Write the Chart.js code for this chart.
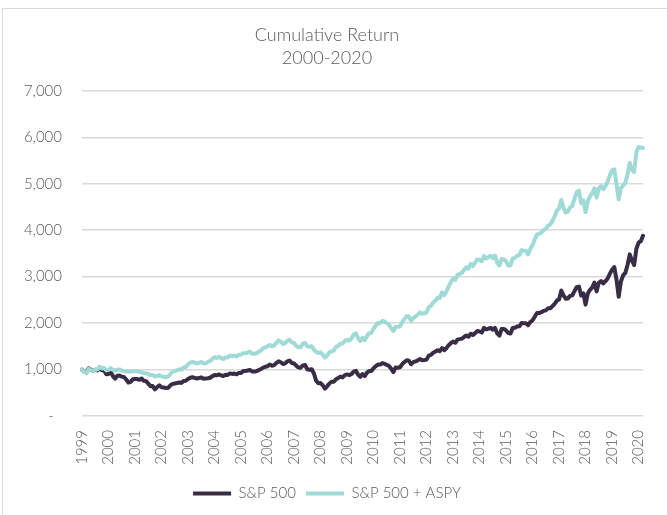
<!DOCTYPE html>
<html>
<head>
<meta charset="utf-8">
<script src="https://cdn.jsdelivr.net/npm/chart.js@4.4.0/dist/chart.umd.min.js"></script>
<style>
  html, body { margin: 0; padding: 0; background: #fff; }
  #frame { position: absolute; left: 2px; top: 8px; width: 700px; height: 600px; border: 1px solid #d9d9d9; }
  #wrap { position: absolute; left: 0; top: 0; width: 667px; height: 515px; }
</style>
</head>
<body>
<div id="frame"></div>
<div id="wrap"><canvas id="myChart" width="667" height="515"></canvas></div>
<script>
// year tick labels, one every 12 monthly points (Dec 1999 .. Feb 2021)
const YEARS = ["1999","2000","2001","2002","2003","2004","2005","2006","2007","2008","2009",
               "2010","2011","2012","2013","2014","2015","2016","2017","2018","2019","2020"]

// growth of 1,000 - S&P 500
const sp500 = [
  1000,
  955, 936, 1027, 995, 973, 997, 980, 1040, 984, 979, 901, 904,
  947, 859, 804, 866, 870, 848, 839, 786, 721, 735, 789, 796,
  796, 779, 807, 758, 751, 697, 642, 645, 574, 624, 659, 620,
  613, 602, 607, 657, 690, 698, 709, 722, 713, 753, 758, 796,
  825, 835, 821, 807, 817, 832, 803, 805, 813, 824, 856, 884,
  877, 895, 877, 860, 886, 885, 917, 906, 913, 897, 928, 927,
  968, 968, 979, 991, 960, 960, 965, 986, 1010, 1042, 1059, 1072,
  1107, 1083, 1094, 1141, 1179, 1157, 1120, 1135, 1176, 1193, 1140, 1130,
  1083, 1045, 1039, 1088, 1099, 1005, 995, 1007, 915, 761, 703, 709,
  662, 589, 640, 700, 737, 737, 792, 819, 848, 831, 879, 894,
  879, 903, 956, 971, 891, 843, 901, 858, 933, 968, 966, 1029,
  1073, 1107, 1106, 1138, 1122, 1102, 1078, 1017, 943, 1045, 1040, 1049,
  1117, 1162, 1198, 1190, 1115, 1159, 1174, 1197, 1226, 1202, 1205, 1214,
  1300, 1315, 1362, 1387, 1416, 1394, 1463, 1417, 1460, 1525, 1568, 1604,
  1576, 1643, 1655, 1665, 1701, 1733, 1707, 1771, 1743, 1784, 1828, 1820,
  1797, 1896, 1863, 1879, 1898, 1859, 1896, 1777, 1730, 1873, 1874, 1842,
  1785, 1777, 1895, 1900, 1929, 1931, 2000, 1997, 1995, 1956, 2023, 2060,
  2138, 2217, 2216, 2236, 2262, 2273, 2317, 2319, 2363, 2415, 2484, 2508,
  2700, 2595, 2525, 2531, 2586, 2598, 2692, 2774, 2786, 2593, 2639, 2397,
  2636, 2714, 2763, 2872, 2683, 2868, 2906, 2853, 2903, 2962, 3062, 3150,
  3207, 2936, 2569, 2895, 3026, 3081, 3251, 3479, 3343, 3250, 3600, 3733,
  3760, 3880
]

// growth of 1,000 - S&P 500 + ASPY
const sp500Aspy = [
  1000,
  945, 917, 1017, 985, 973, 997, 1000, 1061, 1023, 1038, 982, 994,
  1030, 988, 981, 996, 1001, 984, 965, 967, 952, 956, 963, 963,
  960, 950, 940, 920, 920, 900, 880, 880, 850, 865, 880, 850,
  845, 835, 850, 905, 950, 965, 985, 1005, 995, 1045, 1055, 1110,
  1150, 1165, 1150, 1130, 1145, 1165, 1130, 1135, 1165, 1185, 1230, 1265,
  1250, 1275, 1250, 1225, 1260, 1260, 1300, 1290, 1300, 1280, 1320, 1320,
  1350, 1350, 1365, 1385, 1340, 1340, 1350, 1380, 1410, 1455, 1480, 1500,
  1530, 1500, 1520, 1575, 1625, 1600, 1550, 1570, 1620, 1640, 1580, 1570,
  1510, 1480, 1480, 1560, 1570, 1500, 1490, 1500, 1430, 1380, 1360, 1370,
  1320, 1260, 1300, 1370, 1390, 1410, 1490, 1510, 1560, 1560, 1620, 1640,
  1620, 1670, 1750, 1780, 1680, 1610, 1680, 1630, 1720, 1780, 1790, 1880,
  1950, 2000, 2000, 2050, 2030, 2000, 1970, 1890, 1830, 1920, 1920, 1930,
  2020, 2090, 2150, 2140, 2050, 2110, 2140, 2180, 2230, 2200, 2210, 2230,
  2340, 2370, 2440, 2480, 2550, 2540, 2660, 2600, 2680, 2790, 2880, 2960,
  2930, 3040, 3060, 3080, 3150, 3200, 3170, 3270, 3230, 3300, 3370, 3360,
  3330, 3440, 3390, 3420, 3450, 3400, 3450, 3300, 3240, 3380, 3370, 3330,
  3240, 3240, 3390, 3400, 3450, 3460, 3570, 3560, 3550, 3480, 3600, 3680,
  3800, 3910, 3920, 3950, 4000, 4030, 4100, 4120, 4200, 4300, 4420, 4470,
  4650, 4480, 4380, 4400, 4490, 4520, 4680, 4820, 4850, 4580, 4640, 4390,
  4620, 4730, 4800, 4900, 4700, 4900, 4950, 4880, 4950, 5050, 5180, 5290,
  5310, 5000, 4660, 4900, 4960, 5020, 5200, 5450, 5300, 5250, 5680, 5790,
  5780, 5770
]

const FONT = "Lato, 'Open Sans', sans-serif"
const GREY = '#595959'

// one label per point, year shown every 12th month
var labels = sp500.map((v, i) => (i % 12 === 0 ? YEARS[i / 12] : ''))

var ctx = document.getElementById('myChart').getContext('2d')

var myChart = new Chart(ctx, {
    type: 'line',
    data: {
        labels: labels,
        datasets: [
            {
                label: 'S&P 500',
                data: sp500,
                borderColor: '#382d45',
                backgroundColor: '#382d45',
                borderWidth: 4,
                pointRadius: 0,
                tension: 0,
                fill: false,
                order: 2,
                borderJoinStyle: 'round',
                borderCapStyle: 'round'
            },
            {
                label: 'S&P 500 + ASPY',
                data: sp500Aspy,
                borderColor: '#a0dad6',
                backgroundColor: '#a0dad6',
                borderWidth: 4,
                pointRadius: 0,
                tension: 0,
                fill: false,
                order: 1,
                borderJoinStyle: 'round',
                borderCapStyle: 'round'
            }
        ]
    },
    options: {
        responsive: false,
        animation: false,
        layout: { padding: { top: 11, left: 2, right: 15, bottom: 4 } },
        plugins: {
            title: {
                display: true,
                text: ['Cumulative Return', '2000-2020'],
                color: GREY,
                font: { family: FONT, size: 18, weight: 300, lineHeight: 1.3 },
                padding: { top: 12, bottom: 21 }
            },
            legend: {
                position: 'bottom',
                labels: {
                    usePointStyle: true,
                    pointStyle: 'line',
                    pointStyleWidth: 38,
                    color: GREY,
                    font: { family: FONT, size: 15, weight: 300 },
                    padding: 10,
                    sort: function(a, b) { return a.datasetIndex - b.datasetIndex }
                }
            },
            tooltip: { enabled: false }
        },
        scales: {
            x: {
                grid: { display: false },
                border: { display: false },
                ticks: {
                    autoSkip: false,
                    maxRotation: 90,
                    minRotation: 90,
                    padding: 6,
                    color: GREY,
                    font: { family: FONT, size: 15, weight: 300 }
                },
                afterFit: function(scale) { scale.height = 60 }
            },
            y: {
                min: 0,
                max: 7000,
                ticks: {
                    stepSize: 1000,
                    padding: 20,
                    color: GREY,
                    font: { family: FONT, size: 15, weight: 300 },
                    callback: function(v) { return v === 0 ? '-  ' : v.toLocaleString('en-US') }
                },
                grid: { color: '#d9d9d9', lineWidth: 1.5, drawTicks: false },
                border: { display: false },
                afterFit: function(scale) { scale.width = 80 }
            }
        }
    }
})
</script>
</body>
</html>
